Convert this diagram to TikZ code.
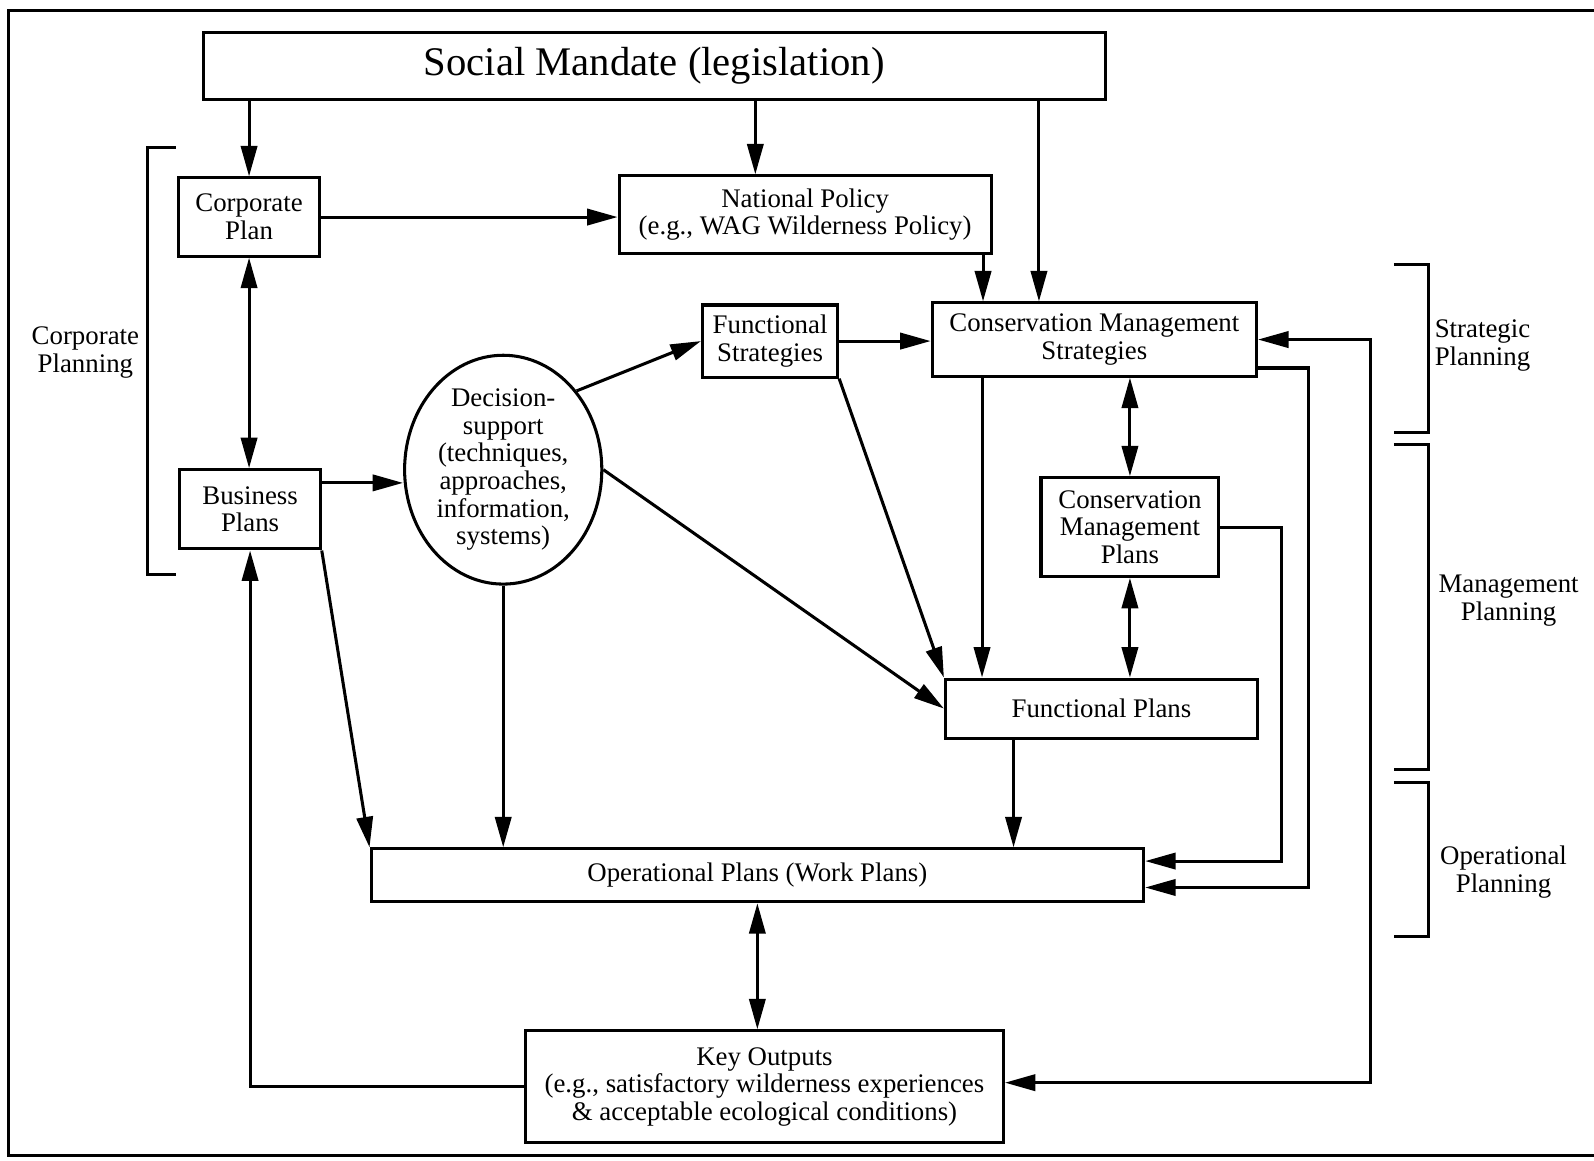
\documentclass[tikz,border=0pt]{standalone}
\usepackage{fontspec}
\setmainfont{Liberation Serif}
\usetikzlibrary{arrows.meta,shapes.geometric}
\begin{document}
\begin{tikzpicture}[x=0.5pt,y=-0.5pt,
  every node/.style={font=\fontsize{13.2}{13.6}\selectfont, align=center, inner sep=0pt},
  box/.style={draw, line width=1.5pt, rectangle},
  conn/.style={line width=1.5pt, -{Triangle[length=15pt,width=8pt]}},
  conn2/.style={line width=1.5pt, {Triangle[length=15pt,width=8pt]}-{Triangle[length=15pt,width=8pt]}},
  brace/.style={line width=1.5pt}]
\useasboundingbox (0,0) rectangle (1568,1142);

% outer frame
\draw[line width=1.5pt] (1568,10) -- (8,10) -- (8,1137) -- (1568,1137);

% boxes
\node[box, minimum width=443.5pt, minimum height=33pt, font=\fontsize{20}{24}\selectfont] (mandate) at (643.5,65) {Social Mandate (legislation)};
\node[box, minimum width=69pt, minimum height=38.5pt] (corp) at (245,213.5) {Corporate\\Plan};
\node[box, minimum width=183pt, minimum height=38pt] (natpol) at (792,211) {National Policy\\(e.g., WAG Wilderness Policy)};
\node[box, minimum width=69pt, minimum height=39pt] (bus) at (246,501) {Business\\Plans};
\node[draw, ellipse, line width=1.5pt, minimum width=97pt, minimum height=103pt] (dss) at (495,462) {Decision-\\support\\(techniques,\\approaches,\\information,\\systems)};
\node[box, minimum width=66.5pt, minimum height=35.5pt] (fstrat) at (757.5,335.5) {Functional\\Strategies};
\node[box, minimum width=159.5pt, minimum height=36pt] (cms) at (1076.5,334) {Conservation Management\\Strategies};
\node[box, minimum width=87.5pt, minimum height=48.5pt] (cmp) at (1111.5,518.5) {Conservation\\Management\\Plans};
\node[box, minimum width=153.5pt, minimum height=29pt] (fplans) at (1083.5,697) {Functional Plans};
\node[box, minimum width=380pt, minimum height=26pt] (oplans) at (745,861) {Operational Plans (Work Plans)};
\node[box, minimum width=235pt, minimum height=55pt] (key) at (752,1069) {Key Outputs\\(e.g., satisfactory wilderness experiences\\\& acceptable ecological conditions)};

% helper positions for connectors
\coordinate (c743) at (743,0);
\coordinate (c1022) at (1022,0);
\coordinate (c967) at (967,0);
\coordinate (c966) at (966,0);
\coordinate (c997) at (997,0);
\coordinate (y475) at (0,475);
\coordinate (r1) at (1261,847);
\coordinate (r2) at (1287,873);
\coordinate (r3) at (1348,1065);

% connectors
\draw[conn] (mandate.south -| corp.north) -- (corp.north);
\draw[conn] (mandate.south -| c743) -- (natpol.north -| c743);
\draw[conn] (mandate.south -| c1022) -- (cms.north -| c1022);
\draw[conn] (natpol.south -| c967) -- (cms.north -| c967);
\draw[conn] (corp.east) -- (corp.east -| natpol.west);
\draw[conn2] (corp.south) -- (corp.south |- bus.north);
\draw[conn] (bus.east |- y475) -- (dss.west |- y475);
\draw[conn] (dss.47) -- (fstrat.west);
\draw[conn] (fstrat.east) -- (fstrat.east -| cms.west);
\draw[conn] (dss.east) -- (fplans.west);
\draw[conn] (fstrat.south east) -- (fplans.north west);
\draw[conn] (cms.south -| c966) -- (fplans.north -| c966);
\draw[conn2] (cms.south -| cmp.north) -- (cmp.north);
\draw[conn2] (cmp.south) -- (cmp.south |- fplans.north);
\draw[conn] (fplans.south -| c997) -- (oplans.north -| c997);
\draw[conn] (bus.south east) -- (oplans.north west);
\draw[conn] (dss.south) -- (dss.south |- oplans.north);
\draw[conn] (cmp.east) -| (r1) -- (r1 -| oplans.east);
\draw[conn] ([yshift=-14pt]cms.east) -| (r2) -- (r2 -| oplans.east);
\draw[conn2] (cms.east) -| (r3) -- (r3 -| key.east);
\draw[conn] (key.west) -| (bus.south);
\draw[conn2] (oplans.south) -- (oplans.south |- key.north);

% planning level brackets
\draw[brace] (173,145) -- (145,145) -- (145,565) -- (173,565);
\draw[brace] (1371,260) -- (1405,260) -- (1405,425) -- (1371,425);
\draw[brace] (1371,437) -- (1405,437) -- (1405,757) -- (1371,757);
\draw[brace] (1371,770) -- (1405,770) -- (1405,921) -- (1371,921);

\node (lcorp) at (84,347) {Corporate\\Planning};
\node[anchor=west, align=left] (lstrat) at (1411,340) {Strategic\\Planning};
\node (lmgmt) at (1484,591) {Management\\Planning};
\node (lop) at (1479,858) {Operational\\Planning};
\end{tikzpicture}
\end{document}
